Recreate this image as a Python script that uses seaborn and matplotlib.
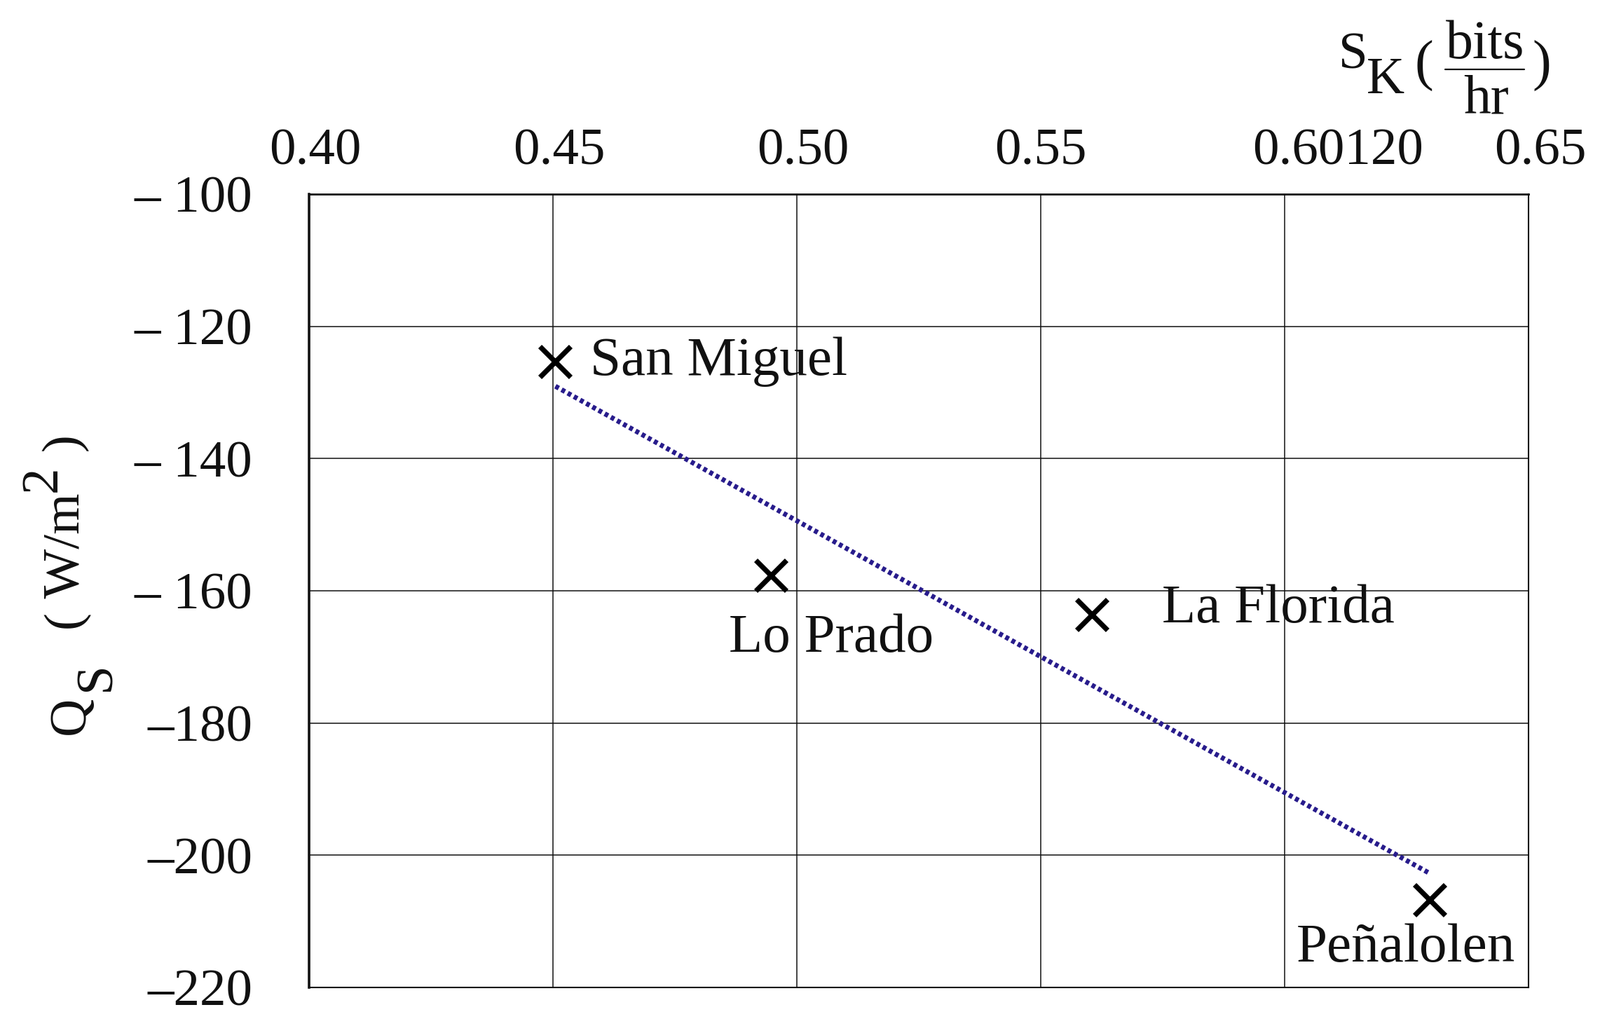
import matplotlib
matplotlib.use("Agg")
import matplotlib.pyplot as plt
from matplotlib.lines import Line2D
import matplotlib.transforms as mtransforms
import seaborn as sns
import pandas as pd

# ---- data ----
sites = ["San Miguel", "Lo Prado", "La Florida", "Peñalolen"]
sk_values = [0.4505, 0.4947, 0.5605, 0.6297]
qs_values = [-125.3, -157.7, -163.6, -206.7]
x_ticks = [0.40, 0.45, 0.50, 0.55, 0.60, 0.65]
x_tick_labels = ["0.40", "0.45", "0.50", "0.55", "0.60120", "0.65"]
y_ticks = [-100, -120, -140, -160, -180, -200, -220]
y_tick_labels = ["– 100", "– 120", "– 140", "– 160", "–180", "–200", "–220"]

df = pd.DataFrame({"site": sites, "sk": sk_values, "qs": qs_values})

# ---- style ----
sns.set_theme(style="white")
FONT = ["Liberation Serif", "DejaVu Serif"]
plt.rcParams["font.family"] = FONT
FS = 54
FS_ANN = 57
W, H = 2283, 1464
fig = plt.figure(figsize=(W / 100, H / 100), dpi=100)
ax = fig.add_axes([441 / W, 1 - 1409 / H, (2181 - 441) / W, (1409 - 277) / H])

sns.regplot(data=df, x="sk", y="qs", scatter=False, ci=None, truncate=True, ax=ax,
            line_kws=dict(color="#281c8c", lw=5.0, linestyle=(0, (0.8, 0.65))))
sns.scatterplot(data=df, x="sk", y="qs", marker="x", s=1000, color="black",
                linewidth=5.2, ax=ax, zorder=5)

# labels next to each point (offsets in points)
label_offsets = {"San Miguel": (36, -14), "Lo Prado": (-43, -78),
                 "La Florida": (72, -8), "Peñalolen": (-137, -64)}
for name, xv, yv in zip(sites, sk_values, qs_values):
    ax.annotate(name, (xv, yv), xytext=label_offsets[name], textcoords="offset points",
                ha="left", va="baseline", fontsize=FS_ANN, color="#111111")

ax.set_xlim(0.40, 0.65)
ax.set_ylim(-220, -100)
ax.xaxis.tick_top()
ax.set_xticks(x_ticks, x_tick_labels)
ax.set_yticks(y_ticks, y_tick_labels)
ax.tick_params(axis="both", length=0, labelsize=FS, colors="#111111")
ax.tick_params(axis="x", pad=19)
ax.tick_params(axis="y", pad=58)
ax.set_xlabel("")
ax.set_ylabel("")
ax.grid(True, color="#111111", lw=1.1)
for side, lw in [("left", 2.6), ("top", 2.0), ("right", 1.5), ("bottom", 1.5)]:
    ax.spines[side].set_visible(True)
    ax.spines[side].set_color("#111111")
    ax.spines[side].set_linewidth(lw)

# shift x tick labels slightly as in the reference
shifts = [6, 6, 6, 0, 55, 12]
for lab, dx in zip(ax.get_xticklabels(), shifts):
    lab.set_transform(lab.get_transform() +
                      mtransforms.ScaledTranslation(dx / 72, 0, fig.dpi_scale_trans))

def ftxt(px, py, s, fs=FS, **kw):
    return fig.text(px / W, 1 - py / H, s, fontsize=fs, color="#111111", **kw)

# ---- top-right x-axis title: S_K ( bits / hr ) ----
ftxt(1910, 98, "S", ha="left", va="baseline")
ftxt(1950, 133, "K", ha="left", va="baseline")
ftxt(2019, 114, "(", fs=58, ha="left", va="baseline")
ftxt(2119, 83, "bits", fs=56, ha="center", va="baseline")
ftxt(2121, 162, "hr", fs=56, ha="center", va="baseline")
ftxt(2186, 114, ")", fs=58, ha="left", va="baseline")
fig.add_artist(Line2D([2062 / W, 2175 / W], [1 - 99 / H, 1 - 99 / H],
                      transform=fig.transFigure, color="#111111", lw=1.6))

# ---- rotated y-axis title: Q_S ( W/m^2 ), pieces chained bottom-to-top ----
renderer = fig.canvas.get_renderer()
rk = dict(rotation=90, rotation_mode="anchor", ha="left", va="baseline")
pieces = [  # (text, baseline x in px, gap before in px)
    ("Q", 120, 0),
    ("S", 157, 8),
    ("(", 112, 48),
    (" W/m", 112, 0),
    ("2", 80, 2),
    (" )", 112, 0),
]
y_cursor = 1048
for s, bx, gap in pieces:
    y_cursor -= gap
    t = ftxt(bx, y_cursor, s, **rk)
    bb = t.get_window_extent(renderer)
    y_cursor -= bb.height

fig.savefig("out.png", dpi=100, facecolor="white")
